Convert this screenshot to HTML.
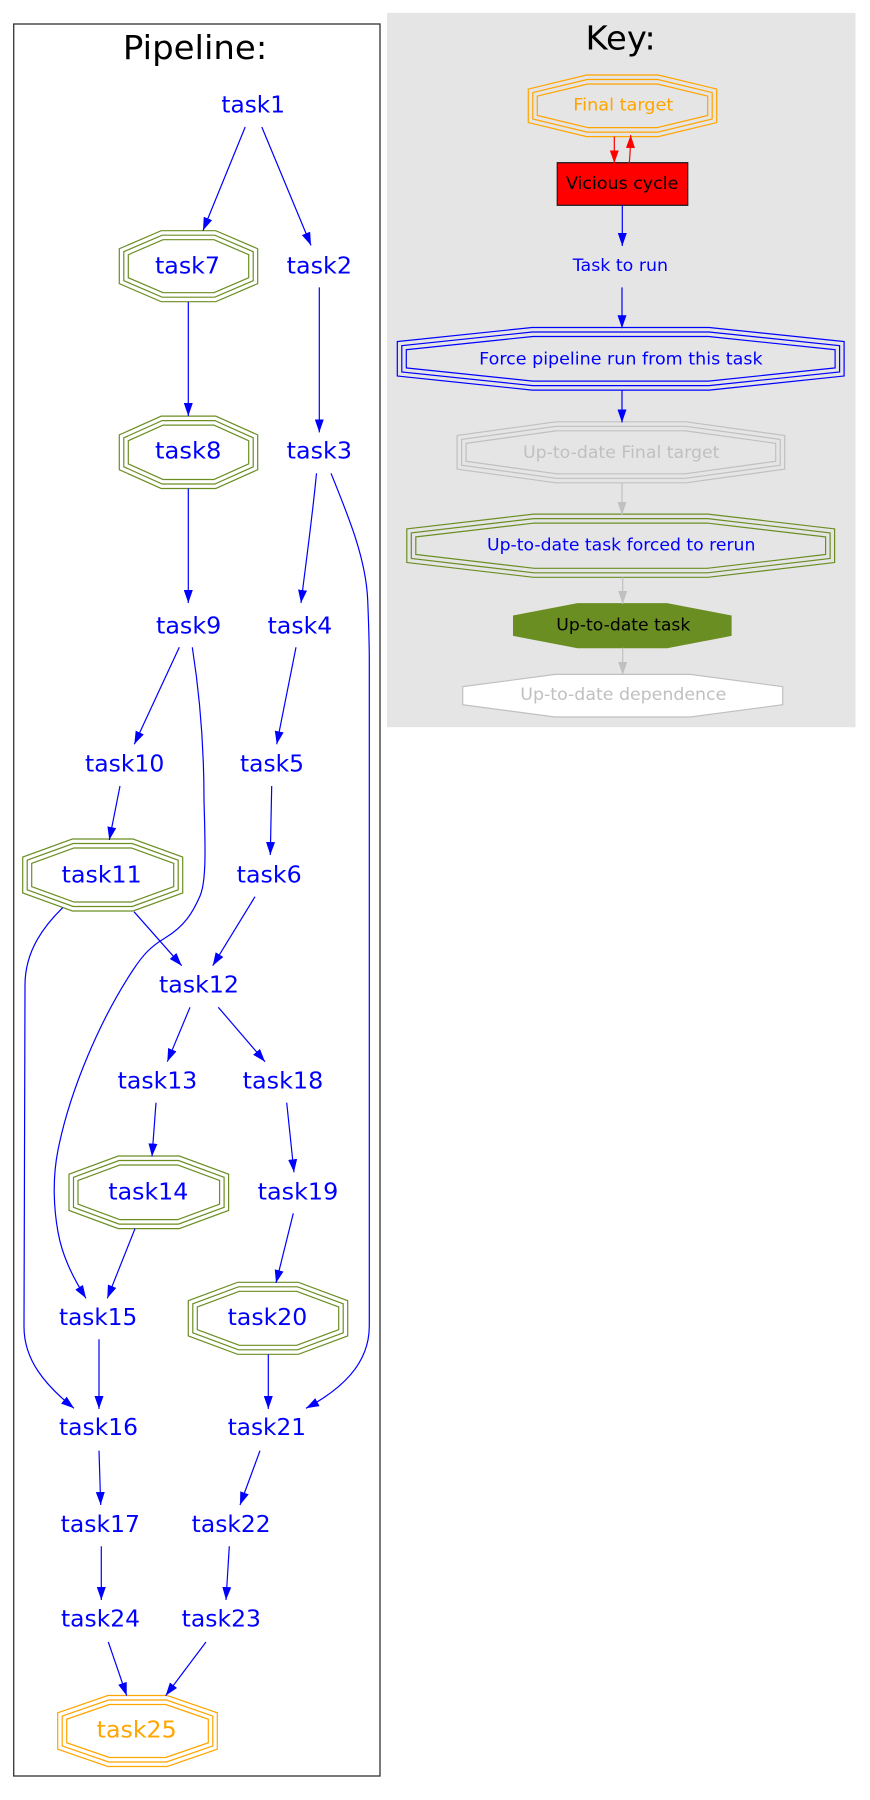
<!DOCTYPE html>
<html>
<head>
<meta charset="utf-8">
<style>
html,body{margin:0;padding:0;background:#fff;}
body{width:870px;height:1800px;overflow:hidden;}
svg{display:block;}
text{font-family:"DejaVu Sans","Liberation Sans",sans-serif;}
.t{font-size:23.3px;fill:#0000ff;}
.k{font-size:17.3px;}
</style>
</head>
<body>
<svg width="870" height="1800" viewBox="0 0 870 1800" xmlns="http://www.w3.org/2000/svg">
<defs>
<marker id="mb" viewBox="0 0 13 9" refX="13" refY="4.5" markerWidth="13" markerHeight="9" markerUnits="userSpaceOnUse" orient="auto"><path d="M0,0 L13,4.5 L0,9 z" fill="#0000ff"/></marker>
<marker id="mr" viewBox="0 0 13 9" refX="13" refY="4.5" markerWidth="13" markerHeight="9" markerUnits="userSpaceOnUse" orient="auto"><path d="M0,0 L13,4.5 L0,9 z" fill="#ff0000"/></marker>
<marker id="mg" viewBox="0 0 13 9" refX="13" refY="4.5" markerWidth="13" markerHeight="9" markerUnits="userSpaceOnUse" orient="auto"><path d="M0,0 L13,4.5 L0,9 z" fill="#c0c0c0"/></marker>
</defs>

<!-- Pipeline cluster -->
<rect x="13.7" y="24" width="366.3" height="1752" fill="#fff" stroke="#333" stroke-width="1.3"/>
<text x="122.9" y="59.2" font-size="33" fill="#000" textLength="144.4" lengthAdjust="spacingAndGlyphs">Pipeline:</text>

<!-- Key cluster -->
<rect x="387.5" y="13.4" width="467.5" height="713.3" fill="#e5e5e5" stroke="#e5e5e5" stroke-width="1"/>
<text x="585.5" y="49.6" font-size="33" fill="#000" textLength="70.3" lengthAdjust="spacingAndGlyphs">Key:</text>

<!-- Pipeline triple octagons -->
<g fill="none" stroke-linejoin="miter" stroke-miterlimit="10">
  <!-- task7 -->
  <polygon points="162.2,235.2 214.8,235.2 253.2,251.7 253.2,280.7 214.8,297.2 162.2,297.2 123.8,280.7 123.8,251.7" stroke="#6b8e23" stroke-width="10.2"/>
  <polygon points="162.2,235.2 214.8,235.2 253.2,251.7 253.2,280.7 214.8,297.2 162.2,297.2 123.8,280.7 123.8,251.7" stroke="#fff" stroke-width="7.8"/>
  <polygon points="162.2,235.2 214.8,235.2 253.2,251.7 253.2,280.7 214.8,297.2 162.2,297.2 123.8,280.7 123.8,251.7" stroke="#6b8e23" stroke-width="1.2"/>
  <!-- task8 -->
  <polygon points="162.2,420.6 214.8,420.6 253.2,437.8 253.2,466.8 214.8,484 162.2,484 123.8,466.8 123.8,437.8" stroke="#6b8e23" stroke-width="10.2"/>
  <polygon points="162.2,420.6 214.8,420.6 253.2,437.8 253.2,466.8 214.8,484 162.2,484 123.8,466.8 123.8,437.8" stroke="#fff" stroke-width="7.8"/>
  <polygon points="162.2,420.6 214.8,420.6 253.2,437.8 253.2,466.8 214.8,484 162.2,484 123.8,466.8 123.8,437.8" stroke="#6b8e23" stroke-width="1.2"/>
  <!-- task11 -->
  <polygon points="73.2,843.5 132.2,843.5 178.2,860.2 178.2,889.8 132.2,906.5 73.2,906.5 27.2,889.8 27.2,860.2" stroke="#6b8e23" stroke-width="10.2"/>
  <polygon points="73.2,843.5 132.2,843.5 178.2,860.2 178.2,889.8 132.2,906.5 73.2,906.5 27.2,889.8 27.2,860.2" stroke="#fff" stroke-width="7.8"/>
  <polygon points="73.2,843.5 132.2,843.5 178.2,860.2 178.2,889.8 132.2,906.5 73.2,906.5 27.2,889.8 27.2,860.2" stroke="#6b8e23" stroke-width="1.2"/>
  <!-- task14 -->
  <polygon points="119.1,1160.5 178.5,1160.5 224.1,1177.3 224.1,1207.3 178.5,1224.1 119.1,1224.1 73.5,1207.3 73.5,1177.3" stroke="#6b8e23" stroke-width="10.2"/>
  <polygon points="119.1,1160.5 178.5,1160.5 224.1,1177.3 224.1,1207.3 178.5,1224.1 119.1,1224.1 73.5,1207.3 73.5,1177.3" stroke="#fff" stroke-width="7.8"/>
  <polygon points="119.1,1160.5 178.5,1160.5 224.1,1177.3 224.1,1207.3 178.5,1224.1 119.1,1224.1 73.5,1207.3 73.5,1177.3" stroke="#6b8e23" stroke-width="1.2"/>
  <!-- task20 -->
  <polygon points="238.5,1286.8 297.5,1286.8 343.2,1303.8 343.2,1332.8 297.5,1349.8 238.5,1349.8 192.8,1332.8 192.8,1303.8" stroke="#6b8e23" stroke-width="10.2"/>
  <polygon points="238.5,1286.8 297.5,1286.8 343.2,1303.8 343.2,1332.8 297.5,1349.8 238.5,1349.8 192.8,1332.8 192.8,1303.8" stroke="#fff" stroke-width="7.8"/>
  <polygon points="238.5,1286.8 297.5,1286.8 343.2,1303.8 343.2,1332.8 297.5,1349.8 238.5,1349.8 192.8,1332.8 192.8,1303.8" stroke="#6b8e23" stroke-width="1.2"/>
  <!-- task25 -->
  <polygon points="108.6,1700 166.4,1700 212.8,1716 212.8,1746 166.4,1762 108.6,1762 62.2,1746 62.2,1716" stroke="#ffa500" stroke-width="10.2"/>
  <polygon points="108.6,1700 166.4,1700 212.8,1716 212.8,1746 166.4,1762 108.6,1762 62.2,1746 62.2,1716" stroke="#fff" stroke-width="7.8"/>
  <polygon points="108.6,1700 166.4,1700 212.8,1716 212.8,1746 166.4,1762 108.6,1762 62.2,1746 62.2,1716" stroke="#ffa500" stroke-width="1.2"/>
</g>

<!-- Key nodes -->
<g fill="none" stroke-linejoin="miter" stroke-miterlimit="10">
  <!-- Final target -->
  <polygon points="587.2,79.5 657.8,79.5 712.2,92.6 712.2,119 657.8,132.1 587.2,132.1 532.8,119 532.8,92.6" stroke="#ffa500" stroke-width="10.2"/>
  <polygon points="587.2,79.5 657.8,79.5 712.2,92.6 712.2,119 657.8,132.1 587.2,132.1 532.8,119 532.8,92.6" stroke="#e5e5e5" stroke-width="7.8"/>
  <polygon points="587.2,79.5 657.8,79.5 712.2,92.6 712.2,119 657.8,132.1 587.2,132.1 532.8,119 532.8,92.6" stroke="#ffa500" stroke-width="1.2"/>
  <!-- Force pipeline -->
  <polygon points="532.4,332 709,332 839.6,345.65 839.6,371.95 709,385.6 532.4,385.6 401.8,371.95 401.8,345.65" stroke="#0000ff" stroke-width="10.2"/>
  <polygon points="532.4,332 709,332 839.6,345.65 839.6,371.95 709,385.6 532.4,385.6 401.8,371.95 401.8,345.65" stroke="#e5e5e5" stroke-width="7.8"/>
  <polygon points="532.4,332 709,332 839.6,345.65 839.6,371.95 709,385.6 532.4,385.6 401.8,371.95 401.8,345.65" stroke="#0000ff" stroke-width="1.2"/>
  <!-- Up-to-date Final target -->
  <polygon points="556.2,426.3 685.6,426.3 780.2,439.4 780.2,465.2 685.6,478.3 556.2,478.3 461.6,465.2 461.6,439.4" stroke="#c0c0c0" stroke-width="10.2"/>
  <polygon points="556.2,426.3 685.6,426.3 780.2,439.4 780.2,465.2 685.6,478.3 556.2,478.3 461.6,465.2 461.6,439.4" stroke="#e5e5e5" stroke-width="7.8"/>
  <polygon points="556.2,426.3 685.6,426.3 780.2,439.4 780.2,465.2 685.6,478.3 556.2,478.3 461.6,465.2 461.6,439.4" stroke="#c0c0c0" stroke-width="1.2"/>
  <!-- Up-to-date task forced to rerun -->
  <polygon points="533.8,518.6 707.6,518.6 830.1,532.9 830.1,558.5 707.6,572.8 533.8,572.8 411.3,558.5 411.3,532.9" stroke="#6b8e23" stroke-width="10.2"/>
  <polygon points="533.8,518.6 707.6,518.6 830.1,532.9 830.1,558.5 707.6,572.8 533.8,572.8 411.3,558.5 411.3,532.9" stroke="#e5e5e5" stroke-width="7.8"/>
  <polygon points="533.8,518.6 707.6,518.6 830.1,532.9 830.1,558.5 707.6,572.8 533.8,572.8 411.3,558.5 411.3,532.9" stroke="#6b8e23" stroke-width="1.2"/>
</g>
<!-- Up-to-date task (filled) -->
<polygon points="577.6,603.7 667,603.7 731,616 731,635.4 667,647.7 577.6,647.7 513.6,635.4 513.6,616" fill="#6b8e23" stroke="#6b8e23" stroke-width="1.2"/>
<!-- Up-to-date dependence -->
<polygon points="555.2,674.4 690.2,674.4 782.7,686.7 782.7,704.7 690.2,717 555.2,717 462.7,704.7 462.7,686.7" fill="#fff" stroke="#c0c0c0" stroke-width="1.2"/>
<!-- Vicious cycle -->
<rect x="557.3" y="162.7" width="130.4" height="42.6" fill="#ff0000" stroke="#222" stroke-width="1.3"/>

<!-- Pipeline edges -->
<g fill="none" stroke="#0000ff" stroke-width="1.2" marker-end="url(#mb)">
  <path d="M245.2,127 L203,230.5"/>
  <path d="M261.8,127 L311,245.4"/>
  <path d="M188.3,302 L188.3,416"/>
  <path d="M319.3,287.4 L319.3,432.4"/>
  <path d="M316.5,473.3 C312,520 305,570 301,603"/>
  <path d="M331,473.3 C350,520 366,560 367.7,600 C368.5,620 369.3,640 369.3,660 L369.3,1326 C369.3,1365 340,1390 306,1408.3"/>
  <path d="M188.3,488.5 L188.3,603"/>
  <path d="M179.3,647.3 L134.3,744.3"/>
  <path d="M192.3,647.3 C199,690 204,740 204,800 C205,840 207,880 200,896 C193,912 185,926 165,938 C150,947 143,955 133,970 C100,1020 70,1090 58,1150 C52,1180 54,1210 58,1232 C62,1255 72,1276 86,1298.3"/>
  <path d="M296,647.3 L276.7,744.3"/>
  <path d="M120,786 L109.3,840"/>
  <path d="M271.7,786 L270.3,855"/>
  <path d="M62.7,907.7 C45,925 25,950 25,985 L24,1326.7 C24,1360 45,1385 74,1408.3"/>
  <path d="M134,911.7 L181.7,965.7"/>
  <path d="M255,896.7 L212.7,965.7"/>
  <path d="M190,1007.3 L167.3,1061.7"/>
  <path d="M218.3,1007.3 L265,1061.7"/>
  <path d="M156,1102.7 L152,1156.5"/>
  <path d="M286.7,1102.7 L294,1172.3"/>
  <path d="M135,1228.7 L107.3,1298.3"/>
  <path d="M293.3,1213.3 L276,1283"/>
  <path d="M99,1339.3 L99,1409"/>
  <path d="M268.3,1354.3 L268.3,1409"/>
  <path d="M99,1450.7 L100.7,1505"/>
  <path d="M260,1450.7 L240,1505"/>
  <path d="M101.3,1546.3 L101.3,1600"/>
  <path d="M229.3,1546.3 L226,1600"/>
  <path d="M108.3,1642 L126.7,1695.6"/>
  <path d="M206,1642 L165.7,1695.6"/>
</g>

<!-- Key edges -->
<g fill="none" stroke-width="1.2">
  <path d="M614.3,136.7 L614.3,163.3" stroke="#ff0000" marker-end="url(#mr)"/>
  <path d="M629.3,163 C630,155 630.5,145 630.7,135" stroke="#ff0000" marker-end="url(#mr)"/>
  <path d="M622.3,205.3 L622.3,246" stroke="#0000ff" marker-end="url(#mb)"/>
  <path d="M622,287.4 L622,328.2" stroke="#0000ff" marker-end="url(#mb)"/>
  <path d="M622,390 L622,422.5" stroke="#0000ff" marker-end="url(#mb)"/>
  <path d="M622,483 L622,515" stroke="#c0c0c0" marker-end="url(#mg)"/>
  <path d="M622.7,577.3 L622.7,604" stroke="#c0c0c0" marker-end="url(#mg)"/>
  <path d="M622.7,647.7 L622.7,675" stroke="#c0c0c0" marker-end="url(#mg)"/>
</g>

<!-- Pipeline labels -->
<g class="t">
  <text class="t" x="221.4" y="112.6" textLength="63.6" lengthAdjust="spacingAndGlyphs">task1</text>
  <text class="t" x="155" y="273.3" textLength="65" lengthAdjust="spacingAndGlyphs">task7</text>
  <text class="t" x="286.7" y="273.3" textLength="65.3" lengthAdjust="spacingAndGlyphs">task2</text>
  <text class="t" x="155" y="458.6" textLength="66.4" lengthAdjust="spacingAndGlyphs">task8</text>
  <text class="t" x="286.7" y="458.6" textLength="65.3" lengthAdjust="spacingAndGlyphs">task3</text>
  <text class="t" x="156" y="633.3" textLength="65.3" lengthAdjust="spacingAndGlyphs">task9</text>
  <text class="t" x="267.7" y="633.3" textLength="64.6" lengthAdjust="spacingAndGlyphs">task4</text>
  <text class="t" x="85" y="771.7" textLength="79.3" lengthAdjust="spacingAndGlyphs">task10</text>
  <text class="t" x="240" y="771.7" textLength="64" lengthAdjust="spacingAndGlyphs">task5</text>
  <text class="t" x="61.7" y="882.3" textLength="80" lengthAdjust="spacingAndGlyphs">task11</text>
  <text class="t" x="236.7" y="882.3" textLength="65" lengthAdjust="spacingAndGlyphs">task6</text>
  <text class="t" x="159" y="992.7" textLength="80" lengthAdjust="spacingAndGlyphs">task12</text>
  <text class="t" x="117.7" y="1088.3" textLength="79.6" lengthAdjust="spacingAndGlyphs">task13</text>
  <text class="t" x="242.7" y="1088.3" textLength="80.6" lengthAdjust="spacingAndGlyphs">task18</text>
  <text class="t" x="108.3" y="1199.3" textLength="80" lengthAdjust="spacingAndGlyphs">task14</text>
  <text class="t" x="257.7" y="1199.3" textLength="80.6" lengthAdjust="spacingAndGlyphs">task19</text>
  <text class="t" x="59" y="1325" textLength="78.3" lengthAdjust="spacingAndGlyphs">task15</text>
  <text class="t" x="227.7" y="1325" textLength="79.6" lengthAdjust="spacingAndGlyphs">task20</text>
  <text class="t" x="59" y="1435" textLength="79" lengthAdjust="spacingAndGlyphs">task16</text>
  <text class="t" x="227.7" y="1435" textLength="78.3" lengthAdjust="spacingAndGlyphs">task21</text>
  <text class="t" x="60.7" y="1532.2" textLength="79.3" lengthAdjust="spacingAndGlyphs">task17</text>
  <text class="t" x="191.7" y="1532.2" textLength="79" lengthAdjust="spacingAndGlyphs">task22</text>
  <text class="t" x="61" y="1626.7" textLength="79" lengthAdjust="spacingAndGlyphs">task24</text>
  <text class="t" x="181.7" y="1626.7" textLength="79.3" lengthAdjust="spacingAndGlyphs">task23</text>
  <text class="t" x="96.7" y="1737.7" textLength="80" lengthAdjust="spacingAndGlyphs" style="fill:#ffa500">task25</text>
</g>

<!-- Key labels -->
<text class="k" x="573.3" y="110.7" fill="#ffa500" textLength="100" lengthAdjust="spacingAndGlyphs">Final target</text>
<text class="k" x="566" y="189" fill="#000" textLength="112.3" lengthAdjust="spacingAndGlyphs">Vicious cycle</text>
<text class="k" x="572.8" y="271" fill="#0000ff" textLength="95.2" lengthAdjust="spacingAndGlyphs">Task to run</text>
<text class="k" x="479.2" y="364.5" fill="#0000ff" textLength="283.4" lengthAdjust="spacingAndGlyphs">Force pipeline run from this task</text>
<text class="k" x="523" y="458" fill="#c0c0c0" textLength="196.4" lengthAdjust="spacingAndGlyphs">Up-to-date Final target</text>
<text class="k" x="487" y="550.4" fill="#0000ff" textLength="268.4" lengthAdjust="spacingAndGlyphs">Up-to-date task forced to rerun</text>
<text class="k" x="556.3" y="630.7" fill="#000" textLength="134" lengthAdjust="spacingAndGlyphs">Up-to-date task</text>
<text class="k" x="520.3" y="700" fill="#c0c0c0" textLength="206" lengthAdjust="spacingAndGlyphs">Up-to-date dependence</text>
</svg>
</body>
</html>
